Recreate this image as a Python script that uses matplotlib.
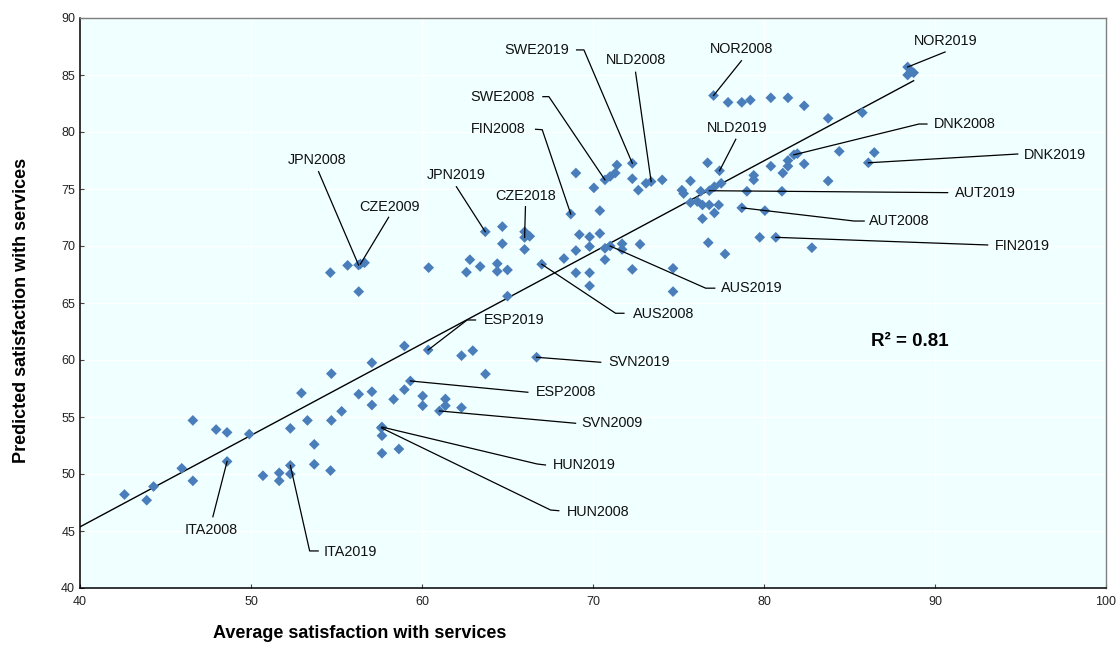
import numpy as np
import matplotlib
matplotlib.use("Agg")
import matplotlib.pyplot as plt

plt.rcParams['font.family'] = ['Liberation Sans', 'DejaVu Sans']

# ---------------- data ----------------
# unlabelled country-years: average satisfaction (x) and predicted satisfaction (y)
avg_sat = [
    42.6, 43.9, 44.3, 45.95, 46.6, 46.6, 47.96, 48.6, 49.9, 50.7, 51.65, 51.65, 52.3, 52.3,
    52.95, 53.3, 53.7, 53.7, 54.7, 54.65, 55.3, 56.3, 57.07, 57.07, 57.66, 57.66, 58.65,
    54.7, 57.07, 58.97, 62.31, 62.97, 63.71, 58.97, 58.34, 60.04, 60.04, 61.37, 61.37, 62.31,
    54.64, 55.65, 56.64, 56.3, 60.39, 62.8, 62.6, 63.4, 64.4, 64.4, 65.0, 64.7, 64.7, 66.0,
    66.3, 66.0, 65.0, 68.3, 69.0, 69.2, 69.8, 70.4, 69.0, 69.8, 69.8, 69.8, 70.7, 70.7, 71.7,
    71.7, 72.3, 72.75,
    70.4, 70.05, 69.0, 71.0, 71.3, 71.4, 72.3, 72.65, 73.1, 74.05, 74.68, 74.68, 75.2, 75.3,
    75.7, 75.7, 76.1, 76.4, 76.8, 77.35, 77.1, 76.4, 76.7, 76.74, 76.3, 77.1, 77.5,
    77.9, 78.7, 79.2, 80.4, 81.4, 82.35, 83.75, 85.75, 88.4, 88.6, 88.75, 79.4, 79.4, 79.0,
    80.4, 81.1, 81.4, 81.4, 81.95, 82.35, 81.05, 83.75, 84.4, 86.45, 80.05, 77.72, 79.75, 82.8,
]
pred_sat = [
    48.2, 47.7, 48.9, 50.5, 54.7, 49.4, 53.9, 53.65, 53.5, 49.85, 50.1, 49.4, 54.0, 50.0,
    57.1, 54.7, 52.6, 50.85, 54.7, 50.3, 55.5, 57.0, 57.22, 56.05, 53.36, 51.82, 52.19,
    58.8, 59.76, 61.23, 60.38, 60.82, 58.77, 57.4, 56.55, 56.84, 55.99, 56.58, 55.99, 55.82,
    67.66, 68.3, 68.53, 66.0, 68.1, 68.8, 67.7, 68.2, 68.45, 67.78, 67.9, 71.7, 70.2, 71.25,
    70.85, 69.7, 65.6, 68.9, 69.6, 71.0, 70.8, 71.1, 67.65, 67.65, 66.5, 69.95, 69.8, 68.8, 70.2,
    69.7, 67.95, 70.15,
    73.1, 75.1, 76.4, 76.1, 76.4, 77.1, 75.9, 74.9, 75.5, 75.8, 68.04, 66.0, 74.9, 74.6,
    75.7, 73.8, 73.9, 73.6, 73.6, 73.6, 72.9, 72.4, 77.3, 70.29, 74.8, 75.2, 75.5,
    82.6, 82.6, 82.8, 83.0, 83.0, 82.3, 81.2, 81.7, 85.0, 85.3, 85.2, 76.2, 75.8, 74.8,
    77.0, 76.4, 77.0, 77.5, 78.1, 77.2, 74.8, 75.7, 78.3, 78.2, 73.1, 69.3, 70.76, 69.85,
]

# labelled country-years
label_names = ["NOR2019", "NOR2008", "NLD2019", "NLD2008", "SWE2019", "SWE2008", "FIN2008",
               "JPN2019", "CZE2018", "JPN2008", "CZE2009", "AUS2008", "AUS2019", "ESP2019",
               "SVN2019", "ESP2008", "SVN2009", "HUN2019", "HUN2008", "ITA2008", "ITA2019",
               "DNK2008", "DNK2019", "AUT2019", "AUT2008", "FIN2019"]
label_avg = [88.4, 77.05, 77.4, 73.4, 72.3, 70.7, 68.7,
             63.7, 66.0, 56.29, 56.4, 67.0, 71.0, 60.36,
             66.7, 59.32, 61.02, 57.66, 57.62, 48.6, 52.3,
             81.75, 86.1, 76.8, 78.7, 80.69]
label_pred = [85.7, 83.2, 76.6, 75.65, 77.25, 75.8, 72.8,
              71.25, 70.75, 68.33, 68.42, 68.4, 70.0, 60.88,
              60.24, 58.16, 55.53, 54.12, 54.05, 51.1, 50.75,
              78.0, 77.3, 74.85, 73.35, 70.76]

r2_text = "R² = 0.81"
x_ticks = [40, 50, 60, 70, 80, 90, 100]
y_ticks = [40, 45, 50, 55, 60, 65, 70, 75, 80, 85, 90]
x_title = "Average satisfaction with services"
y_title = "Predicted satisfaction with services"

# ---------------- layout for labels (text pos, alignment, leader waypoints) ----------------
label_layout = {
    "NOR2019": ((90.64, 87.98), 'center', [(90.59, 87.02)]),
    "NOR2008": ((78.70, 87.25), 'center', [(78.68, 86.25)]),
    "NLD2019": ((78.41, 80.32), 'center', [(78.35, 79.36)]),
    "NLD2008": ((72.54, 86.32), 'center', [(72.49, 85.24)]),
    "SWE2019": ((68.59, 87.2), 'right', [(69.04, 87.2), (69.47, 87.2)]),
    "SWE2008": ((66.58, 83.1), 'right', [(67.07, 83.1), (67.42, 83.1)]),
    "FIN2008": ((66.05, 80.24), 'right', [(66.64, 80.24), (67.03, 80.2)]),
    "JPN2019": ((62.01, 76.23), 'center', [(62.01, 75.2)]),
    "CZE2018": ((66.05, 74.39), 'center', [(66.05, 73.45)]),
    "JPN2008": ((53.88, 77.54), 'center', [(53.95, 76.52)]),
    "CZE2009": ((58.09, 73.45), 'center', [(58.05, 72.52)]),
    "AUS2008": ((72.34, 64.04), 'left', [(71.81, 64.1), (71.32, 64.1)]),
    "AUS2019": ((77.47, 66.29), 'left', [(77.12, 66.3), (76.59, 66.3)]),
    "ESP2019": ((63.59, 63.51), 'left', [(63.13, 63.51), (62.64, 63.51)]),
    "SVN2019": ((70.87, 59.85), 'left', [(70.45, 59.8)]),
    "ESP2008": ((66.64, 57.17), 'left', [(66.19, 57.17)]),
    "SVN2009": ((69.33, 54.45), 'left', [(68.98, 54.45)]),
    "HUN2019": ((67.68, 50.79), 'left', [(67.22, 50.79), (66.73, 50.88)]),
    "HUN2008": ((68.45, 46.69), 'left', [(68.0, 46.78), (67.52, 46.84)]),
    "ITA2008": ((47.67, 45.09), 'center', [(47.77, 46.25)]),
    "ITA2019": ((54.24, 43.18), 'left', [(53.93, 43.25), (53.43, 43.25)]),
    "DNK2008": ((89.92, 80.70), 'left', [(89.53, 80.70), (89.06, 80.70)]),
    "DNK2019": ((95.21, 78.01), 'left', [(94.84, 78.07)]),
    "AUT2019": ((91.17, 74.68), 'left', [(90.74, 74.68)]),
    "AUT2008": ((86.14, 72.17), 'left', [(85.86, 72.19), (85.27, 72.19)]),
    "FIN2019": ((93.51, 70.0), 'left', [(93.08, 70.09)]),
}

# ---------------- figure ----------------
W, H = 1120, 646
fig = plt.figure(figsize=(W / 100, H / 100), dpi=100)
ax = fig.add_axes([80 / W, 1 - 588 / H, (1106 - 80) / W, (588 - 18) / H])
ax.set_facecolor('#F0FFFF')

ax.set_xlim(40, 100)
ax.set_ylim(40, 90)
ax.set_xticks(x_ticks)
ax.set_yticks(y_ticks)
ax.grid(True, color='white', linewidth=1.0, zorder=0)
ax.set_axisbelow(True)
ax.tick_params(axis='both', labelsize=9, labelcolor='#222222', direction='in',
               length=3, color='#444444')
ax.tick_params(axis='x', pad=6)
for side in ['left', 'bottom']:
    ax.spines[side].set_color('black')
    ax.spines[side].set_linewidth(1.1)
for side in ['top', 'right']:
    ax.spines[side].set_color('#7F7F7F')
    ax.spines[side].set_linewidth(1.0)

all_x = np.array(avg_sat + label_avg)
all_y = np.array(pred_sat + label_pred)

# linear trendline
slope, intercept = np.polyfit(all_x, all_y, 1)
xx = np.array([40, all_x.max()])
ax.plot(xx, intercept + slope * xx, color='black', linewidth=1.0, zorder=2)

ax.scatter(all_x, all_y, marker='D', s=30, color='#4A7EBB', edgecolors='none', zorder=3)

for name, px, py in zip(label_names, label_avg, label_pred):
    (tx, ty), ha, way = label_layout[name]
    xs = [p[0] for p in way] + [px]
    ys = [p[1] for p in way] + [py]
    ax.plot(xs, ys, color='black', linewidth=0.9, zorder=4)
    ax.text(tx, ty, name, ha=ha, va='center', fontsize=10.4, color='#111111', zorder=5)

ax.text(88.51, 61.6, r2_text, ha='center', va='center', fontsize=13.5,
        fontweight='bold', color='black')

fig.text(360 / W, 1 - 634 / H, x_title, ha='center', va='center', fontsize=13,
         fontweight='bold')
fig.text(22 / W, 1 - 310 / H, y_title, ha='center', va='center', fontsize=13,
         fontweight='bold', rotation=90)

fig.savefig('out.png', dpi=100, facecolor='white')
